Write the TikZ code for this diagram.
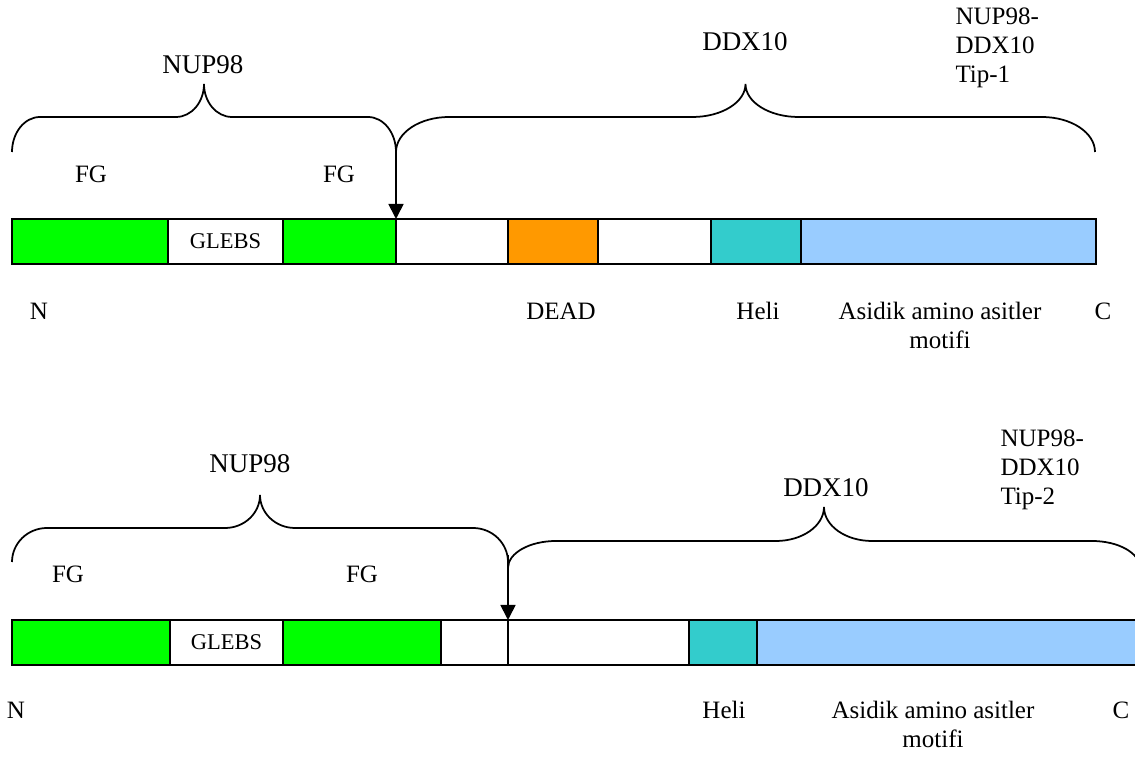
\documentclass[tikz,border=0pt]{standalone}
\usepackage{fontspec}
\setmainfont{Liberation Serif}
\usetikzlibrary{arrows.meta}

\definecolor{fggreen}{HTML}{00FF00}
\definecolor{deadorange}{HTML}{FF9900}
\definecolor{helicyan}{HTML}{33CCCC}
\definecolor{acidblue}{HTML}{99CCFF}

% brace: x1, x2, y of ends, y of bar, y of tip, width of bends
\newcommand{\domainbrace}[6]{%
  \draw[brc] (#1,#3) .. controls (#1,{#3-0.552*(#3-#4)}) and ({#1+0.448*#6},#4) .. ({#1+#6},#4)
    -- ({(#1+#2)/2-#6},#4) .. controls ({(#1+#2)/2-0.448*#6},#4) and ({(#1+#2)/2},{#5+0.552*(#4-#5)}) .. ({(#1+#2)/2},#5)
    .. controls ({(#1+#2)/2},{#5+0.552*(#4-#5)}) and ({(#1+#2)/2+0.448*#6},#4) .. ({(#1+#2)/2+#6},#4)
    -- ({#2-#6},#4) .. controls ({#2-0.448*#6},#4) and (#2,{#3-0.552*(#3-#4)}) .. (#2,#3);}

\tikzset{
  seg/.style={draw, line width=0.8pt, inner sep=0pt, outer sep=0pt, anchor=north west,
    minimum height=18pt, font=\fontsize{9}{10}\selectfont},
  brc/.style={line width=0.7pt},
  cut/.style={line width=0.7pt, -{Triangle[width=6pt,length=6pt]}},
  lbl/.style={anchor=base, inner sep=0pt, font=\fontsize{10}{11.6}\selectfont},
  biglbl/.style={lbl, font=\fontsize{10.8}{13}\selectfont},
}

\begin{document}
\begin{tikzpicture}[x=0.4pt, y=-0.4pt]
  \clip (0,0) rectangle (1135,757);

  % Tip-1
  \foreach \a/\b/\c/\n/\t in {12/168/fggreen/fgA/{}, 168/283/white/glA/GLEBS,
      283/396/fggreen/fgB/{}, 396/508/white/dxA/{}, 508/598/deadorange/deadA/{},
      598/711/white/dxB/{}, 711/801/helicyan/heliA/{}, 801/1096/acidblue/acidA/{}}{
    \node[seg, fill=\c, minimum width={(\b-\a)*0.4pt}] (\n) at (\a,219) {\t};
  }
  \domainbrace{12}{396}{152}{117}{84}{28}
  \domainbrace{396}{1095}{152}{117}{84}{53}
  \coordinate (junA) at (396,152);
  \draw[cut] (junA) -- (dxA.north west);

  % base of last line
  \node[biglbl] (nupA) at (203,74) {NUP98};
  \node[biglbl] (ddxA) at (745,51) {DDX10};
  \node[lbl, anchor=base west, align=left] (typA) at (955,83) {NUP98-\\DDX10\\Tip-1};
  \node[lbl] (fgtA) at (91,183) {FG};
  \node[lbl] (fgtB) at (339,183) {FG};
  \node[lbl] (ntA) at (39,320) {N};
  \node[lbl] (deadtA) at (561,320) {DEAD};
  \node[lbl] (helitA) at (758,320) {Heli};
  \node[lbl, align=center] (acidtA) at (940,349) {Asidik amino asitler\\motifi};
  \node[lbl] (ctA) at (1103,320) {C};

  % Tip-2
  \foreach \a/\b/\c/\n/\t in {12/170/fggreen/fgC/{}, 170/283/white/glB/GLEBS,
      283/441/fggreen/fgD/{}, 441/508/white/gapB/{}, 508/689/white/dxC/{},
      689/757/helicyan/heliB/{}, 757/1150/acidblue/acidB/{}}{
    \node[seg, fill=\c, minimum width={(\b-\a)*0.4pt}] (\n) at (\a,620) {\t};
  }
  \domainbrace{12}{508}{562}{528}{495}{35}
  \domainbrace{508}{1140}{568}{541}{507}{48}
  \coordinate (junB) at (508,555);
  \draw[cut] (junB) -- (dxC.north west);

  \node[biglbl] (nupB) at (250,473) {NUP98};
  \node[biglbl] (ddxB) at (826,497) {DDX10};
  \node[lbl, anchor=base west, align=left] (typB) at (1000,505) {NUP98-\\DDX10\\Tip-2};
  \node[lbl] (fgtC) at (68,583) {FG};
  \node[lbl] (fgtD) at (362,583) {FG};
  \node[lbl] (ntB) at (16,719) {N};
  \node[lbl] (helitB) at (724,719) {Heli};
  \node[lbl, align=center] (acidtB) at (933,748) {Asidik amino asitler\\motifi};
  \node[lbl] (ctB) at (1121,719) {C};
\end{tikzpicture}
\end{document}
